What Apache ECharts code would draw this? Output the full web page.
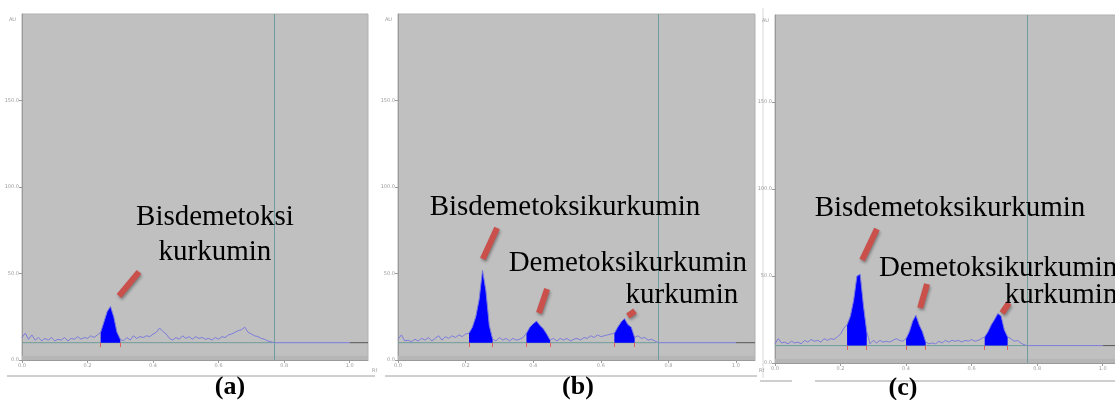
<!DOCTYPE html>
<html><head><meta charset="utf-8">
<script src="https://cdn.jsdelivr.net/npm/echarts@6/dist/echarts.min.js"></script>
<style>html,body{margin:0;padding:0;background:#fff}#c{width:1115px;height:400px}</style>
</head><body><div id="c"></div>
<script>
const RF = [0.00,0.01,0.02,0.03,0.04,0.05,0.06,0.07,0.08,0.09,0.10,0.11,0.12,0.13,0.14,0.15,0.16,0.17,0.18,0.19,
0.20,0.21,0.22,0.23,0.24,0.25,0.26,0.27,0.28,0.29,0.30,0.31,0.32,0.33,0.34,0.35,0.36,0.37,0.38,0.39,
0.40,0.41,0.42,0.43,0.44,0.45,0.46,0.47,0.48,0.49,0.50,0.51,0.52,0.53,0.54,0.55,0.56,0.57,0.58,0.59,
0.60,0.61,0.62,0.63,0.64,0.65,0.66,0.67,0.68,0.69,0.70,0.71,0.72,0.73,0.74,0.75,0.76,0.77];
const AU_A = [13,15.5,12,14.5,11.5,13,11,12.5,11.5,13,11,12,11.5,13,11,12.5,12,13.5,12,13,
12.5,14,13,14.5,16,22,28,31,25,16,12,11,13,11.5,14,12.5,13.5,13,14,13.5,
15,16,18.5,16.5,15,12.5,11.5,13,12,14,12.5,13.5,12,13.5,12.5,13,12,12.5,11.5,13,
12,13.5,13,14.5,15,16,17,17.5,19,16,15,14,13.5,12.5,12,11,10.5,10];
const AU_B = [12,14.5,11,11.5,10.5,12,11,12.5,11.5,13,11,12.5,14,11.5,13.5,12.5,14,13,14.5,13.5,
15,15.5,19,25,35,52,40,20,12,11,13,11.5,12.5,11,12.5,11.5,12,13,15.5,19,
21,22.5,20,18,15,11.5,12.5,11,12.5,11.5,12.5,11,12,12.5,11.5,13,12.5,14,13,14.5,
13.5,14,14.5,15,15.5,19,22,24,20.5,19,13,14,12.5,13,11.5,12,11,10];
const AU_C = [11,14,11.5,12,11,12.5,11.5,12,11,13,12,13.5,12.5,13,12,14,13,14,13.5,15,
16.5,20,22,27,36,50,51,33,18,11,13,11.5,13,12,12.5,12,13,14,13,12.5,
14,18,24,27.5,22,18,12,11,11.5,11,12.5,11.5,13,12,13,12.5,13,12,13,12.5,
13.5,12.5,13,14,15,18,22,25,28.5,27,19,15,14,12.5,13,11.5,10.5,10];
const PEAKS_A = [[0.24,0.30]];
const PEAKS_B = [[0.21,0.28],[0.38,0.45],[0.64,0.70]];
const PEAKS_C = [[0.22,0.28],[0.40,0.46],[0.64,0.71]];
const BASELINE = 10;
const FRONT_RF = 0.765;
const END_RF = 1.0;
const X_MAX = 1.056;
const X_TICKS = [0.0,0.2,0.4,0.6,0.8,1.0];
const Y_TICKS = [0,50,100,150,200];
const BARS_A = [[0.357,50.9,0.296,37]];
const BARS_B = [[0.293,76.3,0.251,58.4],[0.441,41,0.417,27.2],[0.701,28.3,0.68,25.4]];
const BARS_C = [[0.311,77,0.266,59.2],[0.464,45.4,0.443,31.6],[0.714,34.5,0.693,28.7]];
const LABELS_A = [['Bisdemetoksi',0.589,82.7],['kurkumin',0.589,62.4]];
const LABELS_B = [['Bisdemetoksikurkumin',0.494,88.4],['Demetoksikurkumin',0.68,56],['kurkumin',0.84,37.6]];
const LABELS_C = [['Bisdemetoksikurkumin',0.534,89],['Demetoksikurkumin',0.681,54.6],['kurkumin',0.873,39]];
const PANEL_NAMES = ['(a)','(b)','(c)'];

const chart = echarts.init(document.getElementById('c'), null, {renderer:'canvas'});
const panels = [
  {au:AU_A, peaks:PEAKS_A, bars:BARS_A, labels:LABELS_A, grid:{left:22, top:14, width:346, height:346}},
  {au:AU_B, peaks:PEAKS_B, bars:BARS_B, labels:LABELS_B, grid:{left:398, top:14, width:357, height:346}},
  {au:AU_C, peaks:PEAKS_C, bars:BARS_C, labels:LABELS_C, grid:{left:775, top:15, width:346, height:348}}
];
const grids=[], xAxes=[], yAxes=[], series=[];
const tiny = {fontSize:5, color:'#9a9a9a', fontFamily:'DejaVu Sans'};
panels.forEach((p,i)=>{
  grids.push(Object.assign({show:true, backgroundColor:'#c0c0c0', borderColor:'#b0b0b0', borderWidth:1,
    containLabel:false, outerBoundsMode:'none'}, p.grid));
  xAxes.push({type:'value', gridIndex:i, min:X_TICKS[0], max:X_MAX, interval:0.2,
    axisLine:{onZero:false, lineStyle:{color:'#9a9a9a', width:1}},
    axisTick:{length:3, lineStyle:{color:'#9a9a9a'}},
    axisLabel:Object.assign({margin:3, showMaxLabel:false, formatter:v=>X_TICKS.includes(Math.round(v*10)/10)?v.toFixed(1):''}, tiny),
    splitLine:{show:false},
    name:'Rf', nameGap:4, nameTextStyle:Object.assign({verticalAlign:'top', padding:[8,0,0,0]}, tiny)});
  yAxes.push({type:'value', gridIndex:i, min:Y_TICKS[0], max:Y_TICKS[Y_TICKS.length-1], interval:50,
    axisLine:{show:true, lineStyle:{color:'#9a9a9a', width:1}},
    axisTick:{show:true, length:3, lineStyle:{color:'#9a9a9a'}},
    axisLabel:Object.assign({margin:3, showMaxLabel:false, formatter:v=>v.toFixed(1)}, tiny),
    splitLine:{show:false},
    name:'AU', nameLocation:'end', nameGap:-8, nameTextStyle:Object.assign({align:'right', padding:[0,6,0,0]}, tiny)});
  const trace = RF.map((x,k)=>[x,p.au[k]]);
  trace.push([END_RF, BASELINE]);
  series.push({type:'line', xAxisIndex:i, yAxisIndex:i, data:[[0,BASELINE],[FRONT_RF,BASELINE]],
    symbol:'none', lineStyle:{color:'#6f9c9c', width:1}, silent:true, z:2,
    markArea:{silent:true, itemStyle:{color:'#b6b6b6'}, data:[[{yAxis:0},{yAxis:2.5}]]},
    markLine:{silent:true, symbol:'none', label:{show:false}, lineStyle:{color:'#6f9c9c', width:1, type:'solid'},
      data:[{xAxis:FRONT_RF}]}});
  series.push({type:'line', xAxisIndex:i, yAxisIndex:i, data:[[END_RF,BASELINE],[X_MAX,BASELINE]],
    symbol:'none', lineStyle:{color:'#555555', width:1}, silent:true, z:2});
  p.peaks.forEach(rng=>{
    const seg = trace.filter(d=>d[0]>=rng[0]-1e-9 && d[0]<=rng[1]+1e-9);
    series.push({type:'line', xAxisIndex:i, yAxisIndex:i, data:seg, symbol:'none', silent:true, z:3,
      lineStyle:{width:0}, areaStyle:{color:'#0000ff', opacity:1, origin:BASELINE},
      markLine:{silent:true, symbol:'none', label:{show:false}, lineStyle:{color:'#e06060', width:1, type:'solid'},
        data:[[{coord:[rng[0],BASELINE]},{coord:[rng[0],BASELINE-2.5]}],[{coord:[rng[1],BASELINE]},{coord:[rng[1],BASELINE-2.5]}]]}});
  });
  series.push({type:'line', xAxisIndex:i, yAxisIndex:i, data:trace, symbol:'none', silent:true, z:4,
    lineStyle:{color:'#7c7cdc', width:1},
    markLine:{silent:true, symbol:'none', label:{show:false}, z:6,
      lineStyle:{color:'#c9504b', width:6, type:'solid', cap:'butt', shadowColor:'rgba(0,0,0,0.35)', shadowBlur:3, shadowOffsetX:1, shadowOffsetY:2},
      data:p.bars.map(b=>[{coord:[b[0],b[1]]},{coord:[b[2],b[3]]}])}});
  series.push({type:'scatter', xAxisIndex:i, yAxisIndex:i, symbolSize:1, itemStyle:{color:'rgba(0,0,0,0)'}, silent:true, z:7,
    data:p.labels.map(l=>({name:l[0], value:[l[1],l[2]]})),
    label:{show:true, position:'inside', formatter:'{b}', fontFamily:'Liberation Serif', fontSize:29,
      color:'#000000', opacity:1, textBorderWidth:0}});
});
chart.setOption({
  animation:false,
  grid:grids, xAxis:xAxes, yAxis:yAxes, series:series,
  graphic:[
    {type:'line', shape:{x1:7,y1:376,x2:375,y2:376}, style:{stroke:'#a0a0a0', lineWidth:1}},
    {type:'line', shape:{x1:385,y1:376,x2:757,y2:376}, style:{stroke:'#a0a0a0', lineWidth:1}},
    {type:'line', shape:{x1:760,y1:381,x2:792,y2:381}, style:{stroke:'#a0a0a0', lineWidth:1}},
    {type:'line', shape:{x1:815,y1:381,x2:1115,y2:381}, style:{stroke:'#a0a0a0', lineWidth:1}},
    {type:'line', shape:{x1:763,y1:8,x2:763,y2:378}, style:{stroke:'#d8d8d8', lineWidth:1}},
    {type:'text', x:230, y:387, style:{text:PANEL_NAMES[0], font:'bold 26px "Liberation Serif"', fill:'#000', align:'center', verticalAlign:'middle'}},
    {type:'text', x:578, y:387, style:{text:PANEL_NAMES[1], font:'bold 26px "Liberation Serif"', fill:'#000', align:'center', verticalAlign:'middle'}},
    {type:'text', x:903, y:388, style:{text:PANEL_NAMES[2], font:'bold 26px "Liberation Serif"', fill:'#000', align:'center', verticalAlign:'middle'}}
  ]
});
</script></body></html>
